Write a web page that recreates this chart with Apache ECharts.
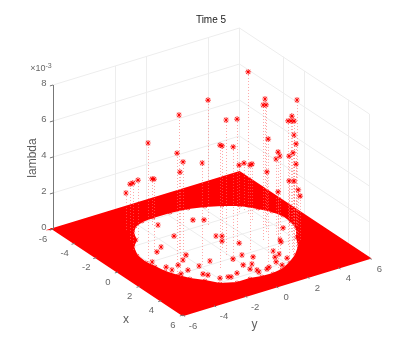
<!DOCTYPE html>
<html>
<head>
<meta charset="utf-8">
<style>
  html, body { margin: 0; padding: 0; background: #fff; }
  #draw { width: 409px; height: 354px; }
</style>
<script src="https://cdn.jsdelivr.net/npm/echarts@6/dist/echarts.min.js"></script>
</head>
<body>
<div id="draw"></div>
<script>
var xTicks = [-6, -4, -2, 0, 2, 4, 6]
var yTicks = [-6, -4, -2, 0, 2, 4, 6]
var zTicks = [0, 2, 4, 6, 8]
// only these wall verticals survive in the picture
var wallXTicks = [-2, 0, 4, 6]
var wallYTicks = [-2, 0, 4, 6]
var floorCorners = [[-6, -6], [6, -6], [6, 6], [-6, 6]]

// edge of the empty ring in the middle of the floor, x y
var holeEdge = [[-3.90, -2.19], [-3.29, -2.75], [-2.53, -3.08], [-1.95, -3.68], [-0.97, -4.10], [-0.05, -4.17], [0.61, -4.04], [1.37, -3.93], [2.13, -3.63], [2.77, -3.30], [3.39, -2.77], [4.12, -2.31], [4.52, -1.49], [4.52, -0.66], [4.68, 0.01], [4.71, 0.70], [4.59, 1.35], [4.15, 2.18], [3.57, 2.97], [2.80, 3.70], [1.88, 4.21], [1.02, 4.81], [0.18, 5.01], [-0.63, 5.06], [-1.33, 4.84], [-2.02, 4.43], [-2.84, 3.83], [-3.36, 3.04], [-3.76, 2.22], [-4.06, 1.34], [-4.21, 0.28], [-4.23, -0.80], [-4.16, -1.55]]

// points lying on the floor inside the ring, x y
var lowPoints = [[-3.32, -1.11], [-1.80, -1.14], [-2.78, 0.76], [-2.46, 1.25], [-0.58, 0.71], [-0.40, 0.97], [0.08, 0.64], [0.77, 1.26], [-1.13, -2.44], [-0.78, -2.95], [0.04, -3.83], [0.93, -3.55], [1.38, -3.49], [1.09, -2.89], [0.75, -2.34], [0.36, -1.87], [2.02, -3.35], [1.85, -2.79], [1.79, -2.03], [2.67, -2.39], [2.91, -2.24], [1.63, -1.22], [3.55, -1.91], [3.68, -1.48], [3.77, -1.35], [3.57, -0.83], [2.11, -0.07], [2.98, -0.02], [1.99, 0.59], [2.50, 0.95], [3.14, 0.43], [3.57, 0.01], [3.86, 0.25], [4.11, 0.21], [4.06, 0.76], [3.93, 0.98], [2.52, 2.23], [3.15, 1.91], [3.65, 1.63], [2.98, 2.29], [1.89, 3.18], [1.67, 3.26], [0.61, 4.20], [3.60, 2.37], [4.12, 1.69]]

// raised points, x y lambda(x 1e-3)
var highPoints = [[-0.08, -4.01, 6.61], [-0.32, -1.85, 7.5], [1.72, -3.40, 6.6], [0.94, -2.47, 5.56], [2.28, -3.60, 5.83], [1.79, -1.83, 5.67], [-1.74, 3.59, 7.89], [-1.86, 1.09, 6.94], [-0.20, 3.60, 7.0], [1.18, 2.52, 7.5], [0.50, 3.18, 7.06], [1.98, 4.14, 7.67], [1.53, -0.11, 7.5], [0.42, 1.37, 6.72], [2.97, 3.12, 7.44], [2.38, 3.29, 6.89], [1.23, 4.28, 6.17], [2.08, 3.88, 6.61], [3.42, 1.28, 6.83], [0.65, 4.88, 5.0], [2.71, 3.57, 5.67], [2.59, -1.24, 6.83], [0.74, 0.18, 5.67], [2.40, -0.26, 6.39], [4.28, 1.32, 6.44], [3.10, 2.26, 5.5], [1.07, 3.42, 4.22], [3.48, 2.84, 5.67], [0.50, 4.66, 3.83], [1.95, 4.10, 4.11], [-2.24, 3.67, 2.61], [-2.19, 3.32, 2.61], [1.75, 1.27, 4.72], [-1.06, 3.36, 3.11], [-1.10, 4.35, 2.39], [-3.77, -2.86, 2.06], [-2.70, -3.34, 3.11], [-1.67, -3.88, 3.72], [-2.66, -2.86, 3.22], [-3.49, -1.37, 2.56], [-1.05, -2.95, 3.94], [4.03, 2.20, 4.5], [3.03, 3.21, 3.83], [1.61, 3.18, 2.67], [2.68, 3.73, 3.06], [2.25, 4.15, 2.44]]

// same view as the matlab axes, 3d -> plot plane
function project (x, y, z) {
  var X = x + 6
  var Y = y + 6
  return [53 + X * 10.83 + Y * 15.54, 229 + X * 7.17 - Y * 4.75 - (z || 0) * 18]
}

function seg (a, b) {
  return { coords: [project(a[0], a[1], a[2]), project(b[0], b[1], b[2])] }
}

var wallLines = []
zTicks.forEach(function (z) {
  wallLines.push(seg([-6, -6, z], [-6, 6, z]))
  wallLines.push(seg([-6, 6, z], [6, 6, z]))
})
wallYTicks.forEach(function (y) { wallLines.push(seg([-6, y, 0], [-6, y, 8])) })
wallXTicks.forEach(function (x) { wallLines.push(seg([x, 6, 0], [x, 6, 8])) })
xTicks.forEach(function (x) { wallLines.push(seg([x, -6, 0], [x, 6, 0])) })
yTicks.forEach(function (y) { wallLines.push(seg([-6, y, 0], [6, y, 0])) })

var axisLines = [seg([-6, -6, 0], [-6, -6, 8])]
zTicks.forEach(function (z) { axisLines.push(seg([-6, -6, z], [-6, -6.2, z])) })
xTicks.forEach(function (x) { axisLines.push(seg([x, -6, 0], [x, -6.2, 0])) })
yTicks.forEach(function (y) { axisLines.push(seg([6, y, 0], [6.2, y, 0])) })

var stemLines = highPoints.map(function (p) { return seg([p[0], p[1], 0], p) })

// outer square and the ring joined by a seam, ring runs backwards so it stays open
var carpet = floorCorners.concat([floorCorners[0], holeEdge[0]]).concat(holeEdge.slice().reverse())

var starPath = 'path://M8.8 0h2.4v20h-2.4z M0 8.8h20v2.4h-20z M2 3.7l1.7-1.7 14.3 14.3-1.7 1.7z M16.3 2l1.7 1.7-14.3 14.3-1.7-1.7z'

function tickLabels (list, name) {
  return list.map(function (t) {
    var p = name === 'x' ? project(t, -6, 0) : name === 'y' ? project(6, t, 0) : project(-6, -6, t)
    return { value: p, name: String(t) }
  })
}

var labelBase = { show: true, position: 'inside', color: '#404040', fontFamily: 'Liberation Sans', fontSize: 9.5, formatter: '{b}' }
function labelSeries (data, offset, extra) {
  return {
    type: 'scatter',
    symbolSize: 1,
    itemStyle: { color: 'transparent' },
    silent: true,
    z: 9,
    label: Object.assign({}, labelBase, { offset: offset }, extra || {}),
    data: data
  }
}

var myChart = echarts.init(document.getElementById('draw'))
myChart.setOption({
  animation: false,
  title: {
    text: 'Time 5',
    left: 206,
    top: 10,
    textAlign: 'center',
    textStyle: { fontFamily: 'Liberation Sans', fontSize: 10, fontWeight: 'normal', color: '#222' }
  },
  grid: { left: 0, right: 0, top: 0, bottom: 0 },
  xAxis: { type: 'value', min: 0, max: 409, show: false },
  yAxis: { type: 'value', min: 0, max: 354, inverse: true, show: false },
  series: [
    {
      type: 'lines',
      coordinateSystem: 'cartesian2d',
      silent: true,
      z: 1,
      lineStyle: { color: '#ededed', width: 1, opacity: 1 },
      data: wallLines
    },
    {
      type: 'custom',
      coordinateSystem: 'cartesian2d',
      silent: true,
      z: 2,
      data: [[0, 0]],
      renderItem: function (params, api) {
        return {
          type: 'polygon',
          shape: {
            points: carpet.map(function (p) { return api.coord(project(p[0], p[1], 0)) })
          },
          style: { fill: '#ff0000', stroke: '#ff0000', lineWidth: 2 }
        }
      }
    },
    {
      type: 'lines',
      coordinateSystem: 'cartesian2d',
      silent: true,
      z: 3,
      lineStyle: { color: '#ff7070', width: 1, type: [1, 2], opacity: 0.6 },
      data: stemLines
    },
    {
      type: 'scatter',
      symbol: starPath,
      symbolSize: 5,
      silent: true,
      z: 4,
      itemStyle: { color: '#ff0000', opacity: 1 },
      data: holeEdge.map(function (p) { return project(p[0], p[1], 0) })
    },
    {
      type: 'scatter',
      symbol: starPath,
      symbolSize: 6,
      silent: true,
      z: 5,
      itemStyle: { color: '#ff0000', opacity: 1 },
      data: lowPoints.map(function (p) { return project(p[0], p[1], 0) }).concat(highPoints.map(function (p) { return project(p[0], p[1], p[2]) }))
    },
    {
      type: 'lines',
      coordinateSystem: 'cartesian2d',
      silent: true,
      z: 6,
      lineStyle: { color: '#777', width: 1, opacity: 1 },
      data: axisLines
    },
    labelSeries(tickLabels(xTicks, 'x'), [-10, 10]),
    labelSeries(tickLabels(yTicks, 'y'), [10, 11]),
    labelSeries(tickLabels(zTicks, 'z'), [-9, -2]),
    labelSeries([{ value: project(-6, -6, 8), name: 'exp' }], [-12, -16], {
      formatter: '×10{s|-3}',
      fontSize: 9,
      rich: { s: { fontSize: 7, verticalAlign: 'top', padding: [0, 0, 5, 0], color: '#404040' } }
    }),
    labelSeries([{ value: project(-6, -6, 4), name: 'lambda' }], [-1, -20], { fontSize: 12, rotate: 90, color: '#333' }),
    labelSeries([{ value: project(0, -6, 0), name: 'x' }], [8, 48], { fontSize: 12, color: '#333' }),
    labelSeries([{ value: project(6, -3, 0), name: 'y' }], [25, 24], { fontSize: 12, color: '#333' })
  ]
})
</script>
</body>
</html>
